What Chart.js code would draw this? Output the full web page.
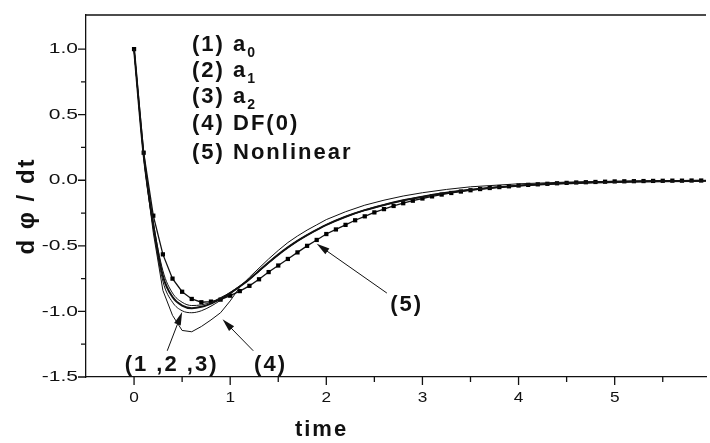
<!DOCTYPE html>
<html>
<head>
<meta charset="utf-8">
<script src="https://cdn.jsdelivr.net/npm/chart.js@4.4.0/dist/chart.umd.min.js"></script>
<style>
  body { margin: 0; background: #fff; }
  canvas { display: block; }
</style>
</head>
<body>
<canvas id="chart" width="710" height="443"></canvas>
<script>
// nonlinear solution, sampled every 0.1
const tFine = [0, 0.1, 0.2, 0.3, 0.4, 0.5, 0.6, 0.7, 0.8, 0.9,
  1.0, 1.1, 1.2, 1.3, 1.4, 1.5, 1.6, 1.7, 1.8, 1.9,
  2.0, 2.1, 2.2, 2.3, 2.4, 2.5, 2.6, 2.7, 2.8, 2.9,
  3.0, 3.1, 3.2, 3.3, 3.4, 3.5, 3.6, 3.7, 3.8, 3.9,
  4.0, 4.1, 4.2, 4.3, 4.4, 4.5, 4.6, 4.7, 4.8, 4.9,
  5.0, 5.1, 5.2, 5.3, 5.4, 5.5, 5.6, 5.7, 5.8, 5.9];
const nonlinear = [1.0, 0.21, -0.27, -0.565, -0.75, -0.85, -0.905, -0.93, -0.925, -0.91,
  -0.88, -0.845, -0.805, -0.755, -0.70, -0.65, -0.60, -0.55, -0.50, -0.455,
  -0.41, -0.375, -0.34, -0.305, -0.275, -0.245, -0.22, -0.196, -0.175, -0.156,
  -0.139, -0.123, -0.109, -0.097, -0.086, -0.076, -0.067, -0.059, -0.052, -0.046,
  -0.040, -0.035, -0.031, -0.027, -0.023, -0.020, -0.017, -0.015, -0.013, -0.011,
  -0.009, -0.008, -0.007, -0.006, -0.005, -0.004, -0.003, -0.003, -0.002, -0.002];

// approximations
const tCoarse = [0, 0.1, 0.2, 0.3, 0.4, 0.5, 0.6, 0.7, 0.8, 0.9, 1.0,
  1.1, 1.2, 1.3, 1.4, 1.5, 1.6, 1.7, 1.8, 1.9, 2.0,
  2.2, 2.4, 2.6, 2.8, 3.0, 3.25, 3.5, 4.0, 4.5, 5.0, 5.5, 6.0];
const a0 = [1.0, 0.18, -0.36, -0.77, -0.93, -0.995, -1.01, -0.995, -0.96, -0.915, -0.865,
  -0.812, -0.757, -0.695, -0.632, -0.57, -0.515, -0.465, -0.42, -0.38, -0.342,
  -0.28, -0.23, -0.19, -0.155, -0.127, -0.098, -0.074, -0.042, -0.024, -0.013, -0.007, -0.004];
const a1 = [1.0, 0.19, -0.34, -0.73, -0.89, -0.955, -0.975, -0.965, -0.94, -0.905, -0.86,
  -0.81, -0.755, -0.69, -0.627, -0.567, -0.512, -0.462, -0.418, -0.378, -0.34,
  -0.278, -0.228, -0.188, -0.153, -0.125, -0.096, -0.073, -0.041, -0.023, -0.013, -0.007, -0.004];
const a2 = [1.0, 0.20, -0.32, -0.69, -0.86, -0.93, -0.955, -0.95, -0.93, -0.895, -0.855,
  -0.805, -0.75, -0.688, -0.625, -0.565, -0.51, -0.46, -0.416, -0.376, -0.338,
  -0.276, -0.226, -0.186, -0.152, -0.124, -0.095, -0.072, -0.041, -0.023, -0.012, -0.007, -0.004];
const df0 = [1.0, 0.17, -0.40, -0.84, -1.03, -1.145, -1.155, -1.115, -1.065, -1.01, -0.92,
  -0.815, -0.74, -0.67, -0.60, -0.535, -0.475, -0.425, -0.38, -0.34, -0.30,
  -0.24, -0.19, -0.152, -0.12, -0.095, -0.07, -0.05, -0.027, -0.014, -0.008, -0.004, -0.002];

const xMajor = [0, 1, 2, 3, 4, 5];
const xLabels = ['0', '1', '2', '3', '4', '5'];
const xMinor = [0.5, 1.5, 2.5, 3.5, 4.5, 5.5];
const yMajor = [-1.5, -1.0, -0.5, 0.0, 0.5, 1.0];
const yLabels = ['-1.5', '-1.0', '-0.5', '0.0', '0.5', '1.0'];
const yMinor = [-1.25, -0.75, -0.25, 0.25, 0.75];

const legendRows = [['(1) a', '0'], ['(2) a', '1'], ['(3) a', '2'], ['(4) DF(0)', ''], ['(5) Nonlinear', '']];

// callouts in data units
const callouts = [
  { text: '(1 ,2 ,3)', at: [0.39, -1.41], from: [0.345, -1.30], to: [0.50, -1.005] },
  { text: '(4)', at: [1.42, -1.41], from: [1.24, -1.30], to: [0.92, -1.06] },
  { text: '(5)', at: [2.835, -0.95], from: [2.63, -0.86], to: [1.90, -0.485] }
];

const FONT = '"Liberation Sans", Arial, Helvetica, sans-serif';
const INK = '#111';

const pts = (xs, ys) => xs.map((x, i) => ({ x: x, y: ys[i] }));

function arrow(ctx, x1, y1, x2, y2) {
  const ang = Math.atan2(y2 - y1, x2 - x1);
  const len = 13, half = 3.5;
  ctx.beginPath();
  ctx.moveTo(x1, y1);
  ctx.lineTo(x2 - Math.cos(ang) * len * 0.8, y2 - Math.sin(ang) * len * 0.8);
  ctx.stroke();
  ctx.beginPath();
  ctx.moveTo(x2, y2);
  ctx.lineTo(x2 - Math.cos(ang) * len - Math.sin(ang) * half, y2 - Math.sin(ang) * len + Math.cos(ang) * half);
  ctx.lineTo(x2 - Math.cos(ang) * len + Math.sin(ang) * half, y2 - Math.sin(ang) * len - Math.cos(ang) * half);
  ctx.closePath();
  ctx.fill();
}

// text drawn a bit wider than normal, like the original
function wideText(ctx, text, px, py, stretch) {
  ctx.save();
  ctx.translate(px, py);
  ctx.scale(stretch, 1);
  ctx.fillText(text, 0, 0);
  ctx.restore();
}

const decor = {
  id: 'decor',
  afterDraw(chart) {
    const { ctx, chartArea: a, scales: { x, y } } = chart;
    ctx.save();
    ctx.strokeStyle = INK;
    ctx.fillStyle = INK;
    ctx.lineWidth = 1.3;

    // top frame line
    ctx.beginPath();
    ctx.moveTo(a.left, a.top);
    ctx.lineTo(a.right, a.top);
    ctx.stroke();

    // tick marks
    ctx.beginPath();
    xMajor.forEach(v => { const p = x.getPixelForValue(v); ctx.moveTo(p, a.bottom); ctx.lineTo(p, a.bottom + 8); });
    xMinor.forEach(v => { const p = x.getPixelForValue(v); ctx.moveTo(p, a.bottom); ctx.lineTo(p, a.bottom + 5); });
    yMajor.forEach(v => { const p = y.getPixelForValue(v); ctx.moveTo(a.left, p); ctx.lineTo(a.left - 8, p); });
    yMinor.forEach(v => { const p = y.getPixelForValue(v); ctx.moveTo(a.left, p); ctx.lineTo(a.left - 5, p); });
    ctx.stroke();

    // tick labels
    ctx.font = '15px ' + FONT;
    ctx.textBaseline = 'middle';
    ctx.textAlign = 'center';
    xMajor.forEach((v, i) => wideText(ctx, xLabels[i], x.getPixelForValue(v), a.bottom + 21, 1.15));
    ctx.textAlign = 'right';
    yMajor.forEach((v, i) => wideText(ctx, yLabels[i], a.left - 8, y.getPixelForValue(v), 1.4));

    // axis titles
    ctx.font = 'bold 22px ' + FONT;
    ctx.letterSpacing = '2px';
    ctx.textAlign = 'center';
    ctx.fillText('time', x.getPixelForValue(1.95), 430);
    ctx.save();
    ctx.translate(27, 206);
    ctx.rotate(-Math.PI / 2);
    ctx.font = 'bold 24px ' + FONT;
    ctx.letterSpacing = '2px';
    ctx.fillText('d φ / dt', 0, 0);
    ctx.restore();

    // legend text
    ctx.textAlign = 'left';
    const lx = 192;
    const rowsY = [45, 71, 97, 124, 153];
    legendRows.forEach((row, i) => {
      ctx.font = 'bold 22px ' + FONT;
      ctx.letterSpacing = '2px';
      ctx.fillText(row[0], lx, rowsY[i]);
      if (row[1]) {
        const w = ctx.measureText(row[0]).width;
        ctx.font = 'bold 14px ' + FONT;
        ctx.letterSpacing = '0px';
        ctx.fillText(row[1], lx + w, rowsY[i] + 8);
      }
    });

    // callouts
    ctx.lineWidth = 1;
    ctx.font = 'bold 22px ' + FONT;
    ctx.letterSpacing = '2px';
    ctx.textAlign = 'center';
    callouts.forEach(c => {
      ctx.fillText(c.text, x.getPixelForValue(c.at[0]), y.getPixelForValue(c.at[1]));
      arrow(ctx,
        x.getPixelForValue(c.from[0]), y.getPixelForValue(c.from[1]),
        x.getPixelForValue(c.to[0]), y.getPixelForValue(c.to[1]));
    });
    ctx.restore();
  }
};

const thin = (data, extra) => Object.assign({
  data: data,
  borderColor: INK,
  borderWidth: 1,
  pointRadius: 0,
  fill: false,
  cubicInterpolationMode: 'monotone'
}, extra || {});

new Chart(document.getElementById('chart'), {
  type: 'line',
  data: {
    datasets: [
      thin(pts(tCoarse, a0)),
      thin(pts(tCoarse, a1), { borderWidth: 2 }),
      thin(pts(tCoarse, a2)),
      thin(pts(tCoarse, df0), { cubicInterpolationMode: 'default', tension: 0 }),
      {
        data: pts(tFine, nonlinear),
        borderColor: INK,
        borderWidth: 1.3,
        tension: 0,
        pointStyle: 'rect',
        pointRadius: 3,
        pointBackgroundColor: '#000',
        pointBorderWidth: 0
      }
    ]
  },
  options: {
    responsive: false,
    animation: false,
    layout: { padding: { top: 15, right: 0, left: 0, bottom: 0 } },
    plugins: { legend: { display: false }, tooltip: { enabled: false } },
    scales: {
      x: {
        type: 'linear',
        min: -0.5,
        max: 5.95,
        grid: { display: false },
        border: { display: true, color: INK, width: 1.3 },
        ticks: { display: false },
        afterFit: s => { s.height = 66; }
      },
      y: {
        min: -1.5,
        max: 1.26,
        grid: { display: false },
        border: { display: true, color: INK, width: 1.3 },
        ticks: { display: false },
        afterFit: s => { s.width = 86; }
      }
    }
  },
  plugins: [decor]
});
</script>
</body>
</html>
